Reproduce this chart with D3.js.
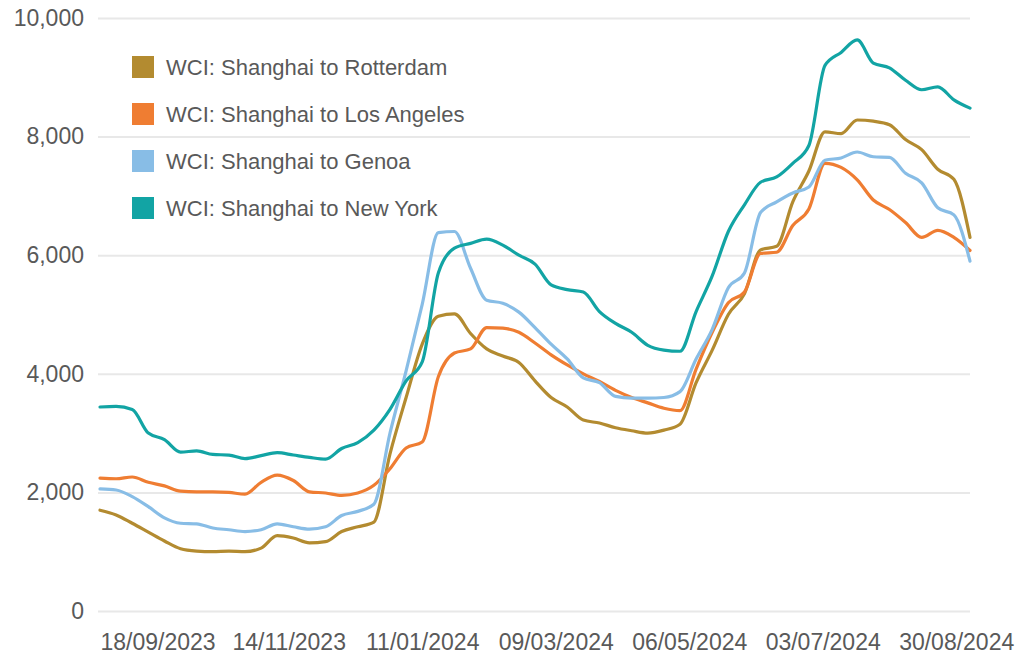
<!DOCTYPE html>
<html>
<head>
<meta charset="utf-8">
<script src="https://cdn.jsdelivr.net/npm/d3@7/dist/d3.min.js"></script>
<style>
    body { margin: 0; background: #fff; }
    svg { display: block; font-family: "Liberation Sans", Arial, sans-serif; }
    .axis text { fill: #595959; font-size: 23px; }
    .axis path.domain { display: none; }
    .y-axis line { stroke: #e8e8e8; stroke-width: 2; }
    .legend text { fill: #595959; font-size: 22px; }
</style>
</head>
<body>
<div id="chart-holder"></div>
<script>
// weekly WCI readings (USD per 40ft container)
var weeks = [
    "2023-08-24", "2023-08-31", "2023-09-07", "2023-09-14", "2023-09-21", "2023-09-28", "2023-10-05",
    "2023-10-12", "2023-10-19", "2023-10-26", "2023-11-02", "2023-11-09", "2023-11-16", "2023-11-23",
    "2023-11-30", "2023-12-07", "2023-12-14", "2023-12-21", "2023-12-28", "2024-01-04", "2024-01-11",
    "2024-01-18", "2024-01-25", "2024-02-01", "2024-02-08", "2024-02-15", "2024-02-22", "2024-02-29",
    "2024-03-07", "2024-03-14", "2024-03-21", "2024-03-28", "2024-04-04", "2024-04-11", "2024-04-18",
    "2024-04-25", "2024-05-02", "2024-05-09", "2024-05-16", "2024-05-23", "2024-05-30", "2024-06-06",
    "2024-06-13", "2024-06-20", "2024-06-27", "2024-07-04", "2024-07-11", "2024-07-18", "2024-07-25",
    "2024-08-01", "2024-08-08", "2024-08-15", "2024-08-22", "2024-08-29", "2024-09-05"
];

var rotterdam = [1700, 1620, 1480, 1330, 1180, 1050, 1010, 1000, 1010, 1000, 1060, 1270, 1230, 1150,
    1170, 1340, 1420, 1500, 2650, 3600, 4500, 4970, 5010, 4680, 4420, 4300, 4190, 3880, 3600, 3440,
    3220, 3170, 3090, 3040, 3000, 3050, 3150, 3850, 4400, 5000, 5350, 6090, 6150, 6900, 7420, 8080,
    8050, 8280, 8260, 8200, 7950, 7780, 7450, 7280, 6300];

var losAngeles = [2240, 2230, 2260, 2170, 2110, 2020, 2010, 2010, 2000, 1970, 2170, 2290, 2200, 2010,
    1990, 1950, 1990, 2120, 2400, 2750, 2850, 3950, 4350, 4420, 4780, 4770, 4700, 4520, 4320, 4150,
    4000, 3870, 3720, 3600, 3510, 3420, 3380, 4080, 4700, 5200, 5380, 6030, 6050, 6500, 6780, 7550,
    7480, 7270, 6930, 6770, 6550, 6300, 6420, 6300, 6080];

var genoa = [2060, 2040, 1930, 1760, 1570, 1480, 1470, 1400, 1370, 1340, 1370, 1470, 1420, 1380,
    1420, 1610, 1680, 1800, 3000, 4050, 5170, 6380, 6400, 5780, 5240, 5190, 5040, 4780, 4500, 4250,
    3930, 3850, 3620, 3590, 3590, 3600, 3700, 4250, 4750, 5450, 5700, 6720, 6900, 7050, 7150, 7600,
    7640, 7740, 7660, 7650, 7380, 7220, 6800, 6680, 5900];

var newYork = [3440, 3450, 3400, 3000, 2890, 2680, 2700, 2640, 2630, 2570, 2620, 2670, 2630, 2590,
    2560, 2740, 2840, 3050, 3400, 3880, 4200, 5700, 6120, 6200, 6270, 6170, 6000, 5850, 5500, 5420,
    5380, 5050, 4850, 4700, 4480, 4400, 4380, 5050, 5650, 6400, 6850, 7230, 7320, 7550, 7850, 9200,
    9420, 9630, 9240, 9160, 8950, 8790, 8840, 8620, 8480];

var seriesNames = ["WCI: Shanghai to Rotterdam", "WCI: Shanghai to Los Angeles",
    "WCI: Shanghai to Genoa", "WCI: Shanghai to New York"];
var seriesColors = ["#b38b30", "#ef7d32", "#88bde6", "#12a4a4"];

var yTicks = [0, 2000, 4000, 6000, 8000, 10000];
var xTicks = ["2023-09-18", "2023-11-14", "2024-01-11", "2024-03-09", "2024-05-06", "2024-07-03", "2024-08-30"];

var width = 1023, height = 655,
    plotLeft = 100, plotRight = 970, plotTop = 18, plotBottom = 611;

var parse = d3.utcParse("%Y-%m-%d");
var dates = weeks.map(parse);
var series = [rotterdam, losAngeles, genoa, newYork];

var svg = d3.select("#chart-holder").append("svg")
    .attr("width", width)
    .attr("height", height);

var x = d3.scaleUtc()
    .domain(d3.extent(dates))
    .range([plotLeft, plotRight]);

var y = d3.scaleLinear()
    .domain([0, 10000])
    .range([plotBottom, plotTop]);

// gridlines + value labels
svg.append("g")
    .attr("class", "axis y-axis")
    .attr("transform", "translate(" + (plotLeft - 2) + ",0)")
    .call(d3.axisLeft(y)
        .tickValues(yTicks)
        .tickSize(-(plotRight - plotLeft + 2))
        .tickPadding(14)
        .tickFormat(d3.format(",")));

svg.append("g")
    .attr("class", "axis x-axis")
    .attr("transform", "translate(0," + plotBottom + ")")
    .call(d3.axisBottom(x)
        .tickValues(xTicks.map(parse))
        .tickSize(0)
        .tickPadding(23)
        .tickFormat(d3.utcFormat("%d/%m/%Y")));

var line = d3.line()
    .x(function (d, i) { return x(dates[i]); })
    .y(function (d) { return y(d); })
    .curve(d3.curveMonotoneX);

svg.append("g")
    .selectAll("path")
    .data(series)
    .enter().append("path")
    .attr("d", line)
    .attr("fill", "none")
    .attr("stroke", function (d, i) { return seriesColors[i]; })
    .attr("stroke-width", 3.2)
    .attr("stroke-linejoin", "round")
    .attr("stroke-linecap", "round");

// legend
var legend = svg.append("g")
    .attr("class", "legend")
    .attr("transform", "translate(132,56)");

var item = legend.selectAll("g")
    .data(seriesNames)
    .enter().append("g")
    .attr("transform", function (d, i) { return "translate(0," + (i * 47) + ")"; });

item.append("rect")
    .attr("width", 22)
    .attr("height", 22)
    .attr("fill", function (d, i) { return seriesColors[i]; });

item.append("text")
    .attr("x", 34)
    .attr("y", 11)
    .attr("dy", "0.35em")
    .text(function (d) { return d; });
</script>
</body>
</html>
